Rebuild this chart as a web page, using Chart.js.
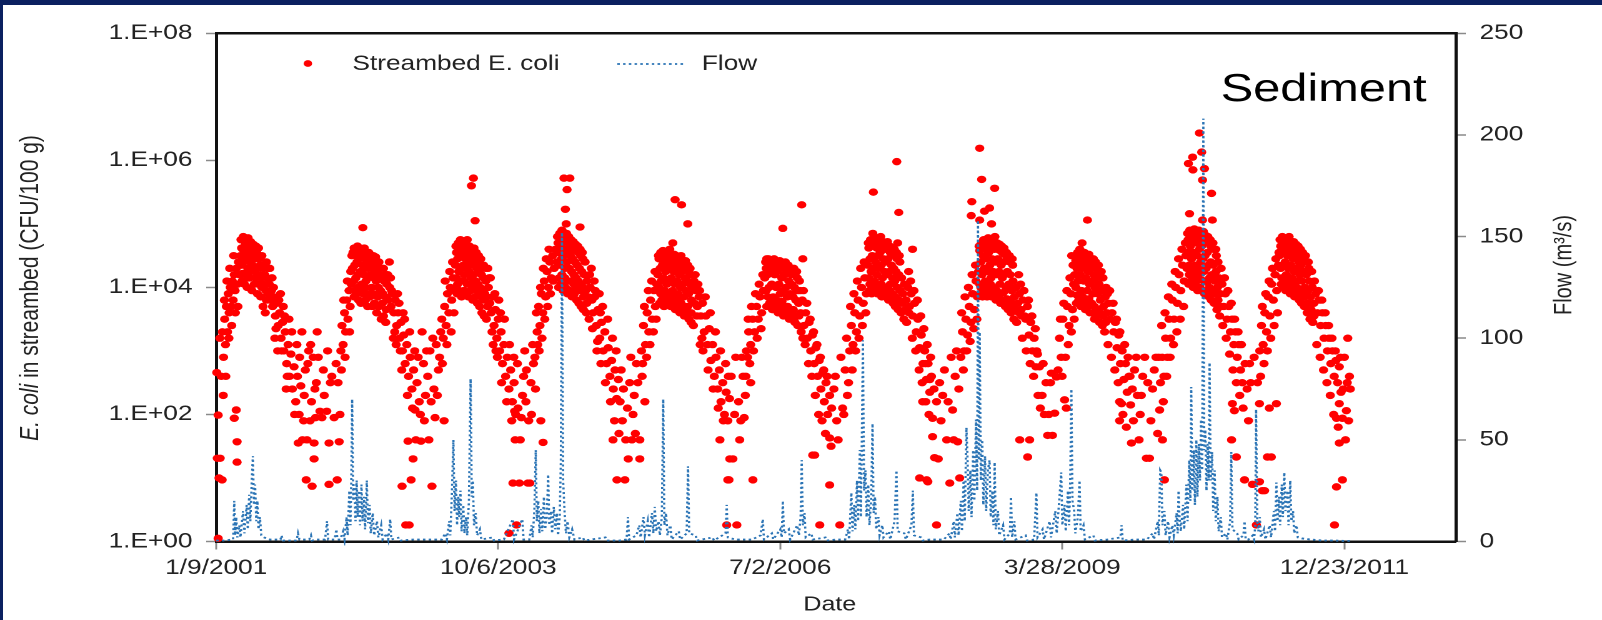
<!DOCTYPE html>
<html><head><meta charset="utf-8">
<script src="https://cdn.jsdelivr.net/npm/chart.js@4.4.1/dist/chart.umd.min.js"></script>
<style>
html,body{margin:0;padding:0;background:#fff;overflow:hidden;width:1602px;height:620px;}
#wrap{position:absolute;left:0;top:0;width:1282px;height:620px;transform:scaleX(1.2496);transform-origin:0 0;}
#topbar{position:absolute;left:0;top:0;width:1602px;height:5px;background:#0b2060;}
#leftbar{position:absolute;left:0;top:0;width:3px;height:620px;background:#0b2060;}
</style></head><body>
<div id="wrap"><canvas id="c" width="1282" height="620"></canvas></div>
<div id="topbar"></div><div id="leftbar"></div>
<script>
// x = days since 1/9/2001
const xTickDays = [0, 1000, 2000, 3000, 4000];
const xTickLabels = ['1/9/2001', '10/6/2003', '7/2/2006', '3/28/2009', '12/23/2011'];
const yTickValues = [1, 1e2, 1e4, 1e6, 1e8];
const yTickLabels = ['1.E+00', '1.E+02', '1.E+04', '1.E+06', '1.E+08'];
const flowTicks = [0, 50, 100, 150, 200, 250];

// Streambed E. coli: [day, log10(CFU/100 g)]
const ecoli2001 = [[2,2.66],[4,1.31],[7,0.05],[7,1.99],[10,1.0],[13,3.2],[14,1.31],[18,2.6],[21,0.97],[22,3.3],[26,2.9],[30,3.5],[33,3.1],[36,3.7],[40,3.3],[43,3.9],[46,3.6],[50,4.0],[53,3.7],[57,4.1],[60,3.8],[64,1.94],[64,4.2],[67,3.95],[71,2.07],[71,4.3],[74,1.57],[74,1.25],[75,4.05],[79,4.4],[82,4.2],
[86,4.5],[90,4.35],[94,4.6],[97,4.4],[101,4.65],[105,4.45],[108,4.55],[112,4.3],[116,4.6],[120,4.4],[124,4.55],[128,4.35],[132,4.5],[136,4.25],[140,4.45],[144,4.3],[148,4.5],[152,4.2],[156,4.35],[160,4.15],[164,4.3],[168,4.05],[172,4.2],[176,3.95],[180,4.15],[184,3.9],[188,4.05],[192,3.8],
[196,3.95],[200,3.7],[205,3.85],[210,3.55],[215,3.75],[220,3.4],[225,3.6],[230,3.2],[235,3.45],[240,3.0],[245,3.3],[250,2.8],[255,3.1],[260,2.6],[265,2.95],[270,2.4],[276,2.75],[282,2.2],[288,2.6],[291,1.55],[294,2.0],[300,2.45],[306,1.6],[312,2.3],[319,0.97],[325,2.8],[333,1.9],[335,3.1],[340,0.87],[347,1.3],[347,1.55],[350,2.4],[355,2.5],[362,2.9]];
const ecoli2001b = [[88,4.75],[96,4.8],[104,4.7],[113,4.78],[122,4.72],[131,4.68],[141,4.65],[150,4.62],[92,4.1],[100,4.05],[110,4.0],[118,4.15],[127,3.95],[135,4.05],[146,3.9],[158,3.85],[166,3.7],[174,3.6],
[25,2.3],[29,3.8],[34,2.6],[38,4.1],[45,3.2],[48,4.3],[55,3.4],[62,4.5],[68,3.6],[77,3.7],
[185,4.3],[198,4.15],[208,3.2],[218,3.0],[228,3.9],[238,3.7],[248,2.4],[258,3.5],[268,3.3],[278,2.0],[286,3.1],[296,2.9],[304,3.3],
[310,1.9],[316,2.7],[322,1.6],[328,3.0],[338,2.2],[344,2.9],[352,1.95],[358,3.3]];
const ecoli2001c = [[90,4.62],[99,4.52],[107,4.65],[115,4.48],[125,4.62],[134,4.52],[143,4.56],[153,4.45],[162,4.5],[170,4.35],[178,4.4],[94,4.22],[103,4.2],[114,4.15],[123,4.25],[139,4.15],[150,4.05],[162,4.0],[178,3.8],[190,4.3],[203,4.0],[212,3.35],[222,3.8],[232,3.0],[242,3.55],[252,2.6]];
const ecoli2002 = [[368,2.05],[375,1.95],[380,2.7],[383,2.3],[392,2.05],[395,3.0],[400,0.9],[400,1.55],[405,2.5],[410,2.6],[418,1.95],[425,2.8],[429,0.97],[436,1.57],[439,2.0],
[442,3.0],[446,3.4],[450,3.1],[455,3.6],[459,3.3],[463,3.8],[467,3.5],[471,3.95],[475,3.7],[479,4.05],
[483,4.3],[487,4.1],[491,4.35],[495,4.15],[499,4.4],[503,4.2],[507,4.45],[511,4.25],[515,4.05],[519,4.35],[520,4.94],[523,4.2],[527,4.45],[531,4.1],[535,4.3],[539,4.15],[543,4.4],[547,4.2],[551,4.0],[555,4.3],[559,4.15],[563,4.35],[567,4.1],[571,4.25],[575,4.0],[579,4.2],[583,3.95],[587,4.15],[591,3.9],[595,4.1],[600,3.85],[605,4.05],[610,3.8],[615,4.0],[620,3.7],[625,3.9],
[630,3.6],[635,3.8],[640,3.4],[645,3.6],[650,3.2],[655,3.45],[659,0.87],[660,3.0],[665,3.25],[670,2.8],[672,0.26],[676,3.1],[680,1.58],[682,2.6],[684,0.26],[688,2.9],[691,0.97],[694,2.4],[698,1.3],[700,2.7],[705,2.07],[712,2.5],[720,2.2],[726,1.58]];
const ecoli2002b = [[432,2.5],[444,2.7],[452,3.8],[457,2.9],[465,4.1],[473,3.3],[477,4.25],
[485,4.55],[493,4.6],[501,4.65],[509,4.6],[517,4.55],[525,4.62],[533,4.5],[541,4.55],[549,4.45],[557,4.5],[565,4.48],[573,4.4],
[489,3.85],[497,3.9],[505,3.8],[513,3.75],[521,3.9],[529,3.8],[537,3.7],[545,3.85],[553,3.7],[561,3.75],[569,3.6],[577,3.7],[585,3.5],[593,3.55],[601,3.45],
[608,4.2],[618,4.15],[628,3.2],[638,3.1],[648,3.75],[658,2.7],[668,3.5],[678,2.3],[686,3.3],[696,2.1],[704,3.0],
[708,1.6],[716,2.9],[724,2.0],[730,3.3]];
const ecoli2002c = [[481,4.5],[489,4.62],[497,4.5],[505,4.58],[513,4.5],[521,4.6],[529,4.55],[537,4.45],[545,4.52],[553,4.42],[561,4.45],[569,4.35],[577,4.4],[585,4.3],[593,4.3],[601,4.2],[491,3.95],[503,4.0],[517,3.95],[529,4.0],[541,3.9],[557,3.9],[573,3.85],[589,3.75],[603,3.65],[614,4.4],[622,3.95],[633,3.3],[643,3.9],[653,3.0],[663,3.6]];
const ecoli2003 = [[735,2.8],[742,2.3],[750,2.6],[758,3.0],[765,0.87],[772,2.4],[780,3.1],[788,2.7],[796,3.3],[800,3.5],[805,3.2],[808,1.9],[810,3.7],[815,3.4],[820,3.9],[825,3.6],[830,4.0],[835,3.8],[840,4.15],[844,3.95],
[848,4.35],[852,4.15],[856,4.45],[860,4.25],[864,4.5],[868,4.3],[872,4.55],[876,4.35],[880,4.2],[884,4.45],[888,4.3],[892,4.5],[896,4.25],[900,4.4],[904,4.15],[905,5.6],[908,4.35],[912,4.2],[912,5.72],[916,4.4],[918,5.05],[920,4.1],[924,4.3],[928,4.05],[932,4.25],[936,4.0],[940,4.2],[944,3.95],[948,4.15],[952,3.9],[956,4.1],[960,3.85],[965,4.0],[970,3.75],
[975,3.6],[980,3.85],[985,3.4],[990,3.65],[995,3.2],[1000,3.5],[1005,3.0],[1010,3.3],[1015,2.8],[1020,3.1],[1026,2.6],[1032,2.9],[1038,0.13],[1038,2.4],[1044,2.7],[1050,2.2],[1052,0.92],[1056,2.5],[1058,2.05],[1062,2.0],[1065,0.26],[1070,2.1],[1075,0.92],[1082,1.95],[1090,2.6]];
const ecoli2003b = [[738,1.9],[746,3.0],[754,1.6],[762,2.2],[768,3.2],[776,1.95],[784,2.3],[792,2.9],[802,2.8],[812,4.1],[818,3.1],[828,4.25],[833,3.3],[838,4.4],[843,3.6],
[850,4.65],[858,4.7],[866,4.75],[874,4.72],[882,4.68],[890,4.75],[898,4.65],[906,4.6],[914,4.62],[922,4.55],[930,4.5],[938,4.45],
[854,3.9],[862,3.95],[870,3.85],[878,3.95],[886,3.9],[894,3.85],[902,3.95],[910,3.8],[918,3.85],[926,3.75],[934,3.7],[942,3.6],[950,3.55],[958,3.5],
[963,4.3],[972,4.15],[982,3.1],[992,3.0],[1002,3.8],[1012,2.5],[1022,3.5],[1030,2.2],[1040,3.1],[1048,1.9],[1055,2.9],[1060,1.6],
[1068,2.8],[1078,1.6],[1086,2.3],[1094,3.0]];
const ecoli2003c = [[852,4.55],[860,4.62],[868,4.6],[876,4.65],[884,4.6],[892,4.62],[900,4.55],[908,4.5],[916,4.52],[924,4.45],[932,4.4],[940,4.35],[948,4.35],[956,4.3],[856,4.05],[866,4.1],[878,4.1],[890,4.05],[902,4.05],[914,4.0],[926,3.95],[938,3.85],[950,3.8],[962,3.7],[968,4.15],[978,3.3],[988,3.9],[997,2.9],[1008,3.6]];
const ecoli2004 = [[1098,2.2],[1105,0.92],[1112,0.92],[1118,2.0],[1125,2.8],[1132,2.4],[1138,3.3],[1140,3.1],[1143,3.7],[1148,3.4],[1151,1.9],[1153,3.9],[1158,3.6],[1159,1.56],[1163,4.1],[1168,3.85],[1173,4.25],[1178,4.0],[1183,4.4],[1188,4.15],[1193,4.5],[1198,4.3],[1203,4.6],[1208,4.4],
[1212,4.55],[1216,4.35],[1220,4.65],[1224,4.45],[1228,4.7],[1232,4.5],[1233,5.72],[1236,4.3],[1238,5.23],[1240,4.6],[1241,5.0],[1244,4.4],[1244,5.54],[1248,4.55],[1252,4.3],[1254,5.72],[1256,4.5],[1260,4.25],[1264,4.45],[1268,4.2],[1272,4.4],[1276,4.15],[1280,4.35],[1284,4.1],[1288,4.3],[1290,4.95],[1292,4.05],[1296,4.25],[1300,4.0],[1305,4.2],[1310,3.95],[1315,4.1],[1320,3.85],[1326,4.0],[1332,3.8],
[1336,3.6],[1342,3.85],[1348,3.4],[1354,3.65],[1360,3.2],[1366,3.45],[1372,3.0],[1378,3.3],[1384,2.8],[1390,3.05],[1396,2.6],[1402,2.85],[1407,1.6],[1408,2.4],[1414,2.7],[1420,2.25],[1421,0.97],[1426,2.55],[1432,2.2],[1440,1.9],[1449,0.97],[1458,2.1]];
const ecoli2004b = [[1100,2.7],[1108,1.9],[1116,2.5],[1122,3.1],[1130,2.9],[1135,3.6],[1145,3.0],[1150,4.0],[1155,3.2],[1160,4.3],[1165,3.5],[1170,4.45],[1175,3.7],[1180,4.6],[1185,3.9],[1195,4.1],
[1210,4.8],[1218,4.85],[1226,4.9],[1234,4.82],[1242,4.85],[1250,4.8],[1258,4.75],[1266,4.72],[1274,4.68],[1282,4.65],[1290,4.6],[1298,4.55],
[1214,4.0],[1222,4.05],[1230,3.95],[1238,4.0],[1246,3.9],[1254,3.95],[1262,3.85],[1270,3.9],[1278,3.8],[1286,3.75],[1294,3.7],[1302,3.65],[1312,3.6],[1322,3.5],
[1330,4.3],[1340,4.1],[1350,3.0],[1358,3.9],[1364,2.8],[1370,3.7],[1380,2.5],[1388,3.5],[1398,2.2],[1405,3.2],[1412,1.9],[1418,3.0],[1428,1.7],[1436,2.7],[1444,2.4],[1452,1.6]];
const ecoli2004c = [[1212,4.7],[1220,4.75],[1228,4.8],[1236,4.72],[1244,4.75],[1252,4.68],[1260,4.65],[1268,4.6],[1276,4.58],[1284,4.55],[1292,4.5],[1300,4.45],[1308,4.4],[1216,4.15],[1226,4.2],[1236,4.15],[1248,4.1],[1258,4.1],[1268,4.05],[1278,4.0],[1290,3.95],[1302,3.85],[1314,3.75],[1324,4.2],[1334,3.35],[1344,3.95],[1352,3.15],[1362,3.6]];
const ecoli2005 = [[1466,2.5],[1474,1.6],[1482,2.3],[1490,2.8],[1502,1.3],[1502,1.6],[1508,3.0],[1510,2.6],[1515,3.4],[1520,2.2],[1522,3.1],[1528,3.6],[1534,3.3],[1540,3.8],[1546,3.5],[1552,3.95],[1557,3.7],[1562,4.05],
[1566,4.2],[1570,4.0],[1574,4.3],[1578,4.1],[1582,4.35],[1586,4.15],[1590,3.95],[1594,4.25],[1598,4.05],[1602,4.3],[1606,4.1],[1610,4.35],[1614,4.15],[1618,3.95],[1619,4.7],[1622,4.25],[1626,4.05],[1627,5.38],[1630,4.3],[1634,4.1],[1638,3.9],[1642,4.2],[1646,4.0],[1650,4.25],[1650,5.3],[1654,4.05],[1658,3.85],[1662,4.15],[1666,3.95],[1670,4.1],[1672,5.0],[1675,3.9],[1680,4.05],[1685,3.8],[1690,4.0],[1695,3.75],[1700,3.95],[1706,3.7],[1712,3.85],
[1718,3.55],[1724,3.75],[1730,3.3],[1736,3.55],[1742,3.1],[1748,3.35],[1754,2.85],[1760,3.1],[1766,2.6],[1772,2.9],[1778,2.4],[1784,2.7],[1786,1.6],[1790,2.2],[1796,2.5],[1802,2.0],[1808,2.35],[1810,0.26],[1814,0.97],[1814,1.9],[1818,0.97],[1820,2.25],[1821,1.3]];
const ecoli2005b = [[1461,1.3],[1470,2.9],[1478,2.0],[1486,1.7],[1495,2.5],[1512,2.8],[1518,3.7],[1526,2.9],[1532,3.95],[1538,3.1],[1544,4.1],[1550,3.3],[1556,4.25],[1560,3.5],
[1568,4.5],[1576,4.55],[1584,4.58],[1592,4.5],[1600,4.55],[1608,4.6],[1616,4.5],[1624,4.52],[1632,4.5],[1640,4.45],[1648,4.5],[1656,4.4],[1664,4.42],[1672,4.35],[1680,4.3],
[1572,3.75],[1580,3.8],[1588,3.7],[1596,3.75],[1604,3.8],[1612,3.7],[1620,3.75],[1628,3.65],[1636,3.7],[1644,3.6],[1652,3.65],[1660,3.55],[1668,3.6],[1676,3.5],[1684,3.45],[1692,3.4],
[1698,4.2],[1708,4.05],[1716,3.1],[1726,3.0],[1734,3.85],[1744,2.7],[1752,3.6],[1762,2.4],[1770,3.3],[1780,2.1],[1788,3.0],[1798,1.9],[1806,2.8],[1816,2.6]];
const ecoli2005c = [[1570,4.45],[1578,4.45],[1586,4.48],[1594,4.42],[1602,4.45],[1610,4.5],[1618,4.42],[1626,4.45],[1634,4.4],[1642,4.38],[1650,4.4],[1658,4.32],[1666,4.3],[1674,4.25],[1682,4.2],[1576,3.9],[1588,3.85],[1600,3.9],[1612,3.85],[1624,3.85],[1636,3.8],[1648,3.75],[1660,3.7],[1672,3.7],[1684,3.6],[1694,4.1],[1704,3.55],[1714,3.95],[1722,3.2]];
const ecoli2006 = [[1832,1.3],[1846,0.26],[1852,2.2],[1860,1.9],[1868,2.6],[1876,2.3],[1880,3.0],[1884,2.9],[1888,3.3],[1895,3.1],[1895,2.5],[1902,3.5],[1903,0.97],[1909,3.3],[1916,3.7],[1922,3.5],[1928,3.85],[1934,3.6],[1940,3.95],
[1945,4.15],[1950,3.95],[1952,4.45],[1955,4.2],[1960,4.0],[1965,4.25],[1970,4.05],[1975,3.85],[1980,4.2],[1985,4.0],[1990,4.25],[1995,4.05],[2000,3.9],[2005,4.15],[2009,4.93],[2010,3.95],[2015,4.2],[2020,4.0],[2025,3.85],[2030,4.1],[2035,3.9],[2040,4.05],[2045,3.85],[2050,4.0],[2055,3.8],[2060,3.95],[2065,3.75],
[2072,3.6],[2076,5.3],[2078,3.8],[2080,4.45],[2084,3.4],[2090,3.6],[2096,3.2],[2102,3.45],[2108,3.0],[2114,3.25],[2115,1.36],[2120,2.8],[2122,1.36],[2126,3.05],[2132,2.6],[2138,2.85],[2140,0.26],[2144,2.4],[2150,2.65],[2156,2.2],[2160,1.7],[2162,2.5],[2168,2.0],[2175,2.3],[2175,1.63],[2175,0.89],[2182,2.1],[2190,2.4]];
const ecoli2006b = [[1826,2.6],[1838,2.0],[1842,2.9],[1856,1.6],[1864,2.9],[1872,1.95],[1878,2.6],[1886,3.5],[1892,2.8],[1898,3.7],[1905,3.0],[1912,3.9],[1918,3.2],[1925,4.05],[1932,3.35],[1938,4.2],
[1948,4.4],[1958,4.45],[1968,4.42],[1978,4.45],[1988,4.4],[1998,4.42],[2008,4.38],[2018,4.4],[2028,4.35],[2038,4.3],[2048,4.3],[2058,4.25],
[1952,3.7],[1962,3.75],[1972,3.65],[1982,3.7],[1992,3.6],[2002,3.65],[2012,3.55],[2022,3.6],[2032,3.5],[2042,3.55],[2052,3.45],[2062,3.4],
[2068,4.1],[2074,3.3],[2082,3.95],[2088,3.1],[2094,3.75],[2100,2.8],[2106,3.5],[2112,2.6],[2118,3.3],[2124,2.3],[2130,3.1],[2136,2.0],[2142,2.9],[2148,1.9],[2154,2.7],[2166,2.6],[2180,1.5]];
const ecoli2006c = [[1950,4.3],[1960,4.35],[1970,4.32],[1980,4.35],[1990,4.32],[2000,4.33],[2010,4.3],[2020,4.3],[2030,4.25],[2040,4.2],[2050,4.2],[2060,4.15],[1956,3.85],[1966,3.82],[1976,3.75],[1986,3.8],[1996,3.75],[2006,3.78],[2016,3.7],[2026,3.7],[2036,3.65],[2046,3.65],[2056,3.55],[2066,3.55],[2070,3.95],[2080,3.2]];
const ecoli2007 = [[2200,1.9],[2211,0.26],[2221,2.1],[2230,2.7],[2238,2.3],[2246,3.0],[2252,3.4],[2258,3.1],[2264,3.6],[2270,3.3],[2276,3.8],[2282,3.55],[2288,4.0],[2294,3.75],[2300,4.15],[2305,3.9],
[2310,4.35],[2314,4.15],[2318,4.45],[2322,4.25],[2326,4.5],[2328,4.85],[2330,4.3],[2330,5.5],[2334,4.1],[2338,4.4],[2342,4.2],[2346,4.5],[2350,4.3],[2354,4.55],[2358,4.35],[2362,4.15],[2366,4.45],[2370,4.25],[2374,4.4],[2378,4.2],[2382,4.45],[2386,4.25],[2390,4.05],[2394,4.35],[2398,4.15],[2402,4.3],[2406,4.1],[2410,4.25],[2413,5.98],[2415,4.0],[2416,4.7],[2420,4.2],[2420,5.18],[2425,3.95],[2430,4.15],[2435,3.9],[2440,4.05],[2446,3.8],[2452,4.0],[2458,3.7],[2464,3.9],[2469,4.6],
[2470,3.55],[2476,3.75],[2482,3.3],[2488,3.5],[2494,3.05],[2494,1.0],[2500,3.25],[2505,2.2],[2506,2.8],[2512,3.0],[2515,2.8],[2518,2.55],[2519,0.97],[2523,0.94],[2524,2.8],[2530,2.35],[2530,2.55],[2536,2.6],[2540,1.94],[2540,1.65],[2547,1.32],[2554,0.26],[2554,2.2]];
const ecoli2007b = [[2195,2.6],[2205,1.6],[2215,2.9],[2225,2.0],[2235,3.2],[2242,2.5],[2249,3.7],[2255,2.7],[2261,3.9],[2267,3.0],[2273,4.1],[2279,3.2],[2285,4.3],[2291,3.4],[2297,4.4],[2303,3.6],
[2312,4.7],[2320,4.75],[2332,4.78],[2340,4.72],[2348,4.75],[2356,4.8],[2364,4.72],[2372,4.7],[2380,4.72],[2388,4.65],[2396,4.62],[2404,4.6],[2412,4.55],[2422,4.5],
[2316,3.95],[2324,3.9],[2336,3.95],[2344,3.9],[2352,3.95],[2360,3.85],[2368,3.9],[2376,3.85],[2384,3.8],[2392,3.85],[2400,3.75],[2408,3.7],[2418,3.65],[2428,3.6],[2438,3.5],[2448,3.45],
[2455,4.25],[2462,4.1],[2468,3.2],[2474,3.95],[2480,3.0],[2486,3.8],[2492,2.7],[2498,3.55],[2503,2.5],[2509,3.35],[2516,2.2],[2521,3.1],[2527,2.0],[2533,2.9],[2545,2.4],[2560,1.3]];
const ecoli2007c = [[2314,4.62],[2322,4.65],[2334,4.68],[2342,4.62],[2350,4.65],[2358,4.7],[2366,4.62],[2374,4.6],[2382,4.62],[2390,4.55],[2398,4.52],[2406,4.5],[2414,4.45],[2424,4.4],[2318,4.05],[2328,4.0],[2338,4.05],[2348,4.0],[2358,4.05],[2368,4.0],[2378,3.95],[2388,3.95],[2398,3.9],[2408,3.85],[2420,3.8],[2432,3.75],[2444,3.65],[2456,3.6]];
const ecoli2008 = [[2565,2.5],[2576,2.3],[2590,1.6],[2601,0.92],[2611,2.07],[2620,2.6],[2629,1.57],[2636,1.0],[2640,2.9],[2646,3.3],[2652,3.0],[2658,3.5],[2664,3.25],[2670,3.7],[2676,3.45],[2677,5.13],[2679,5.35],[2682,3.9],[2688,3.65],[2694,4.1],[2699,3.85],
[2703,4.25],[2707,4.05],[2707,6.19],[2707,5.06],[2711,4.4],[2714,5.7],[2715,4.2],[2719,4.5],[2723,4.3],[2724,5.2],[2727,4.1],[2731,4.45],[2735,4.25],[2739,4.55],[2742,5.25],[2743,4.35],[2747,4.15],[2749,5.0],[2751,4.45],[2755,4.25],[2759,4.6],[2760,5.56],[2763,4.4],[2767,4.2],[2771,4.45],[2775,4.25],[2779,4.05],[2783,4.35],[2787,4.15],[2791,4.4],[2795,4.2],[2800,4.0],[2805,4.25],[2810,4.05],[2815,4.2],[2820,3.95],[2825,4.1],[2830,3.85],[2836,4.0],[2842,3.75],[2848,3.9],[2849,1.6],[2854,3.65],[2860,3.8],[2866,3.55],
[2870,3.5],[2876,3.7],[2877,1.33],[2882,3.25],[2884,1.6],[2888,3.45],[2894,3.0],[2900,3.2],[2906,2.75],[2909,3.0],[2912,2.95],[2919,2.75]];
const ecoli2008b = [[2570,1.9],[2582,2.7],[2595,2.2],[2606,2.9],[2615,1.6],[2625,3.0],[2633,2.4],[2643,3.6],[2649,2.7],[2655,3.85],[2661,3.0],[2667,4.0],[2673,3.15],[2680,4.2],[2686,3.35],[2692,4.35],[2697,3.5],
[2705,4.65],[2713,4.7],[2721,4.75],[2729,4.7],[2737,4.78],[2745,4.72],[2753,4.75],[2761,4.8],[2769,4.7],[2777,4.68],[2785,4.65],[2793,4.62],[2802,4.55],[2812,4.5],[2822,4.45],
[2709,3.9],[2717,3.85],[2725,3.9],[2733,3.85],[2741,3.95],[2749,3.85],[2757,3.9],[2765,3.8],[2773,3.85],[2781,3.75],[2789,3.8],[2798,3.7],[2808,3.65],[2818,3.6],[2828,3.5],[2838,3.45],
[2845,4.2],[2852,4.05],[2858,3.2],[2864,3.95],[2872,3.0],[2880,3.8],[2886,2.8],[2892,3.55],[2898,2.6],[2904,3.35],[2914,2.3],[2922,2.1],[2932,2.8],[2942,2.5],[2952,2.0]];
const ecoli2008c = [[2707,4.58],[2715,4.62],[2723,4.65],[2731,4.6],[2739,4.68],[2747,4.62],[2755,4.65],[2763,4.7],[2771,4.6],[2779,4.58],[2787,4.55],[2795,4.52],[2804,4.45],[2814,4.4],[2824,4.35],[2711,4.0],[2721,4.0],[2731,3.98],[2745,4.05],[2755,4.0],[2767,3.95],[2779,3.9],[2791,3.92],[2803,3.82],[2815,3.78],[2826,3.72],[2836,3.65],[2846,3.6],[2856,3.55]];
const ecoli2009 = [[2928,2.3],[2936,2.0],[2948,1.67],[2958,2.5],[2961,2.65],[2965,1.67],[2973,2.02],[2979,2.59],[2990,3.2],[2996,2.9],[3002,3.5],[3008,2.23],[3014,2.1],[3018,3.7],[3024,3.4],[3030,3.9],[3033,4.5],[3036,3.65],[3040,4.05],
[3044,4.2],[3048,4.0],[3052,4.3],[3056,4.1],[3060,4.4],[3064,4.2],[3068,3.95],[3070,4.7],[3072,4.3],[3076,4.1],[3080,4.35],[3084,4.15],[3088,3.95],[3089,5.06],[3092,4.25],[3096,4.05],[3100,4.3],[3104,4.1],[3108,3.9],[3112,4.2],[3116,4.0],[3120,4.15],[3125,3.9],[3130,4.05],[3135,3.8],[3140,3.95],[3146,3.7],[3152,3.85],[3158,3.6],[3164,3.75],[3170,3.5],
[3176,3.6],[3182,3.3],[3188,3.45],[3194,3.05],[3200,3.25],[3203,2.2],[3203,1.9],[3206,2.8],[3210,2.17],[3212,3.0],[3218,2.55],[3224,2.8],[3230,2.35],[3236,2.6],[3242,2.15],[3245,1.55],[3248,2.4],[3256,2.7],[3266,2.3],[3276,2.0],[3285,2.6]];
const ecoli2009b = [[2985,2.7],[2993,3.5],[2999,2.6],[3005,3.75],[3011,2.9],[3016,3.95],[3021,3.1],[3027,4.15],[3032,3.3],[3038,4.35],[3042,3.5],
[3046,4.5],[3054,4.55],[3062,4.6],[3070,4.5],[3078,4.55],[3086,4.5],[3094,4.52],[3102,4.45],[3110,4.45],[3118,4.4],[3128,4.35],[3138,4.25],
[3050,3.75],[3058,3.8],[3066,3.7],[3074,3.75],[3082,3.65],[3090,3.7],[3098,3.6],[3106,3.6],[3114,3.5],[3122,3.55],[3132,3.45],[3142,3.4],[3150,3.3],
[3144,4.15],[3155,4.0],[3162,3.1],[3168,3.95],[3174,2.9],[3180,3.75],[3186,2.7],[3192,3.5],[3198,2.5],[3204,3.3],[3215,2.0],[3221,3.1],[3227,1.8],[3233,2.9],[3240,2.6],[3252,1.9],[3262,2.9],[3272,1.6],[3280,2.3],[3292,2.9]];
const ecoli2009c = [[3048,4.42],[3056,4.45],[3064,4.5],[3072,4.4],[3080,4.45],[3088,4.42],[3096,4.42],[3104,4.38],[3112,4.35],[3120,4.3],[3130,4.25],[3140,4.15],[3052,3.88],[3062,3.9],[3072,3.85],[3084,3.8],[3094,3.82],[3104,3.75],[3114,3.7],[3124,3.65],[3134,3.6],[3144,3.55],[3154,3.45],[3160,3.9]];
const ecoli2010 = [[3298,1.31],[3309,1.31],[3320,2.4],[3332,2.9],[3345,2.07],[3348,2.5],[3354,2.9],[3355,1.6],[3360,2.6],[3362,0.97],[3366,3.2],[3372,2.9],[3378,3.5],[3384,3.2],[3390,3.8],[3396,3.5],[3402,4.0],[3408,3.75],[3414,4.2],[3420,3.95],[3426,4.35],[3432,4.1],[3438,4.5],
[3442,4.3],[3446,4.55],[3447,5.95],[3450,4.35],[3451,5.16],[3454,4.65],[3458,4.45],[3462,4.25],[3462,6.05],[3463,5.85],[3466,4.55],[3470,4.35],[3474,4.7],[3478,4.5],[3482,4.3],[3486,4.6],[3486,6.43],[3490,4.4],[3494,4.65],[3494,6.13],[3497,5.69],[3497,5.06],[3498,4.45],[3502,4.25],[3504,5.87],[3506,4.5],[3510,4.3],[3514,4.55],[3518,4.35],[3522,4.15],[3526,4.4],[3529,5.48],[3530,4.2],[3532,5.06],[3535,4.35],[3540,4.1],[3545,4.25],[3550,4.0],[3555,4.15],
[3560,3.9],[3566,4.05],[3572,3.7],[3578,3.9],[3584,3.5],[3590,3.7],[3596,3.3],[3600,1.6],[3602,3.5],[3603,2.17],[3608,3.1],[3610,2.06],[3614,3.3],[3617,1.33],[3620,2.9],[3626,3.1],[3632,2.7],[3638,2.5],[3646,0.97]];
const ecoli2010b = [[3303,2.5],[3314,1.9],[3326,2.7],[3338,1.7],[3342,2.9],[3352,3.4],[3358,2.2],[3364,3.6],[3370,2.6],[3376,3.85],[3382,2.9],[3388,4.05],[3394,3.1],[3400,4.25],[3406,3.3],[3412,4.45],[3418,3.5],[3424,4.6],[3430,3.7],[3436,4.7],
[3444,4.85],[3452,4.9],[3460,4.85],[3468,4.92],[3476,4.88],[3484,4.9],[3492,4.85],[3500,4.88],[3508,4.82],[3516,4.8],[3524,4.75],[3534,4.7],[3544,4.6],
[3448,4.05],[3456,4.1],[3464,4.0],[3472,4.05],[3480,3.95],[3488,4.0],[3496,3.95],[3504,3.9],[3512,3.95],[3520,3.85],[3528,3.8],[3538,3.75],[3548,3.65],[3558,3.55],
[3552,4.4],[3563,4.3],[3569,3.4],[3575,4.15],[3581,3.2],[3587,3.95],[3593,2.95],[3599,3.75],[3605,2.7],[3611,3.5],[3617,2.5],[3623,3.3],[3629,2.3],[3635,3.1],[3641,2.1],[3648,2.8]];
const ecoli2010c = [[3446,4.75],[3454,4.8],[3462,4.75],[3470,4.82],[3478,4.78],[3486,4.8],[3494,4.75],[3502,4.78],[3510,4.72],[3518,4.7],[3526,4.65],[3536,4.6],[3546,4.5],[3450,4.2],[3460,4.18],[3470,4.15],[3482,4.2],[3492,4.12],[3502,4.1],[3512,4.08],[3522,4.0],[3532,3.95],[3542,3.9],[3552,3.8],[3562,3.7]];
const ecoli2011 = [[3655,2.4],[3664,2.8],[3674,0.9],[3688,0.26],[3699,0.94],[3699,2.17],[3700,3.0],[3706,3.4],[3709,0.8],[3712,3.1],[3717,0.8],[3718,3.6],[3724,3.3],[3727,1.33],[3730,3.85],[3734,2.1],[3736,3.55],[3741,1.33],[3742,4.05],[3748,3.8],[3754,4.2],[3759,2.17],[3760,3.95],[3766,4.35],
[3770,4.5],[3774,4.3],[3778,4.55],[3782,4.35],[3786,4.6],[3790,4.4],[3794,4.2],[3798,4.5],[3802,4.3],[3802,4.68],[3806,4.55],[3810,4.35],[3814,4.15],[3818,4.45],[3822,4.25],[3826,4.5],[3830,4.3],[3834,4.1],[3838,4.4],[3842,4.2],[3846,4.35],[3850,4.1],[3855,4.25],[3860,4.0],[3865,4.2],[3870,3.95],[3875,4.1],[3880,3.85],[3886,4.0],[3892,3.75],[3898,3.9],
[3904,3.6],[3910,3.8],[3916,3.4],[3922,3.6],[3928,3.2],[3934,3.4],[3940,3.0],[3946,3.2],[3952,2.8],[3958,3.0],[3964,2.6],[3965,0.26],[3970,2.85],[3972,0.86],[3972,1.94],[3976,2.5],[3982,2.75],[3982,1.55],[3982,2.17],[3988,2.35],[3993,0.97],[3993,1.94],[4000,2.9],[4007,2.06],[4012,3.2],[4018,2.6],[4021,2.4]];
const ecoli2011b = [[3660,1.9],[3668,2.5],[3680,2.9],[3692,2.5],[3703,2.6],[3709,3.7],[3715,2.8],[3721,3.9],[3727,3.0],[3733,4.1],[3739,3.2],[3745,4.3],[3751,3.4],[3757,4.45],[3763,3.6],[3768,4.55],
[3772,4.75],[3780,4.8],[3788,4.78],[3796,4.72],[3804,4.8],[3812,4.7],[3820,4.72],[3828,4.68],[3836,4.65],[3844,4.6],[3852,4.55],[3862,4.5],[3872,4.4],
[3776,4.05],[3784,4.0],[3792,3.95],[3800,4.0],[3808,3.9],[3816,3.95],[3824,3.85],[3832,3.9],[3840,3.8],[3848,3.75],[3858,3.7],[3868,3.6],[3878,3.5],[3888,3.45],
[3884,4.25],[3894,4.1],[3902,3.1],[3908,3.95],[3914,2.9],[3920,3.8],[3926,2.7],[3932,3.6],[3938,2.5],[3944,3.4],[3950,2.3],[3956,3.2],[3962,2.0],[3968,3.0],[3978,1.8],[3986,2.9],[3996,2.4],[4004,1.6],[4010,2.5],[4015,1.9]];
const ecoli2011c = [[3774,4.65],[3782,4.7],[3790,4.68],[3798,4.62],[3806,4.7],[3814,4.6],[3822,4.62],[3830,4.58],[3838,4.55],[3846,4.5],[3854,4.45],[3864,4.4],[3874,4.3],[3778,4.15],[3788,4.12],[3798,4.1],[3810,4.08],[3820,4.05],[3830,4.0],[3840,3.98],[3850,3.9],[3860,3.85],[3870,3.75],[3882,3.65],[3892,3.55]];

// Flow: [day, m3/s]
const flow2001 = [[0,0.5],[30,0.5],[60,1],[64,20],[67,3],[71,12],[75,2],[82,8],[86,2],[95,15],[100,4],[108,18],[112,6],[117,23],[121,10],[126,30],[130,42],[134,18],[138,28],[142,10],[146,20],[150,6],[155,12],[160,3],[170,2],[190,1],[228,1],[232,3],[236,0.5],[285,0.5],[290,4],[295,1],[330,1],[336,3],[340,0.5],[360,1]];
const flow2002 = [[386,1],[393,10],[397,1],[420,1],[426,6],[430,1],[440,1],[450,5],[455,1],[462,12],[466,3],[472,25],[476,8],[479,30],[482,70],[486,20],[490,28],[494,10],[498,30],[502,12],[506,25],[510,8],[515,28],[519,10],[524,22],[528,6],[534,30],[538,9],[544,18],[548,4],[555,14],[560,3],[570,10],[575,2],[585,8],[590,1],[605,4],[610,1],[617,11],[621,1],[650,2],[655,0.5],[700,1],[740,1]];
const flow2003 = [[780,1],[800,1],[812,4],[818,1],[826,10],[830,3],[836,25],[841,50],[845,15],[850,30],[854,8],[858,22],[862,12],[866,25],[870,5],[876,18],[880,4],[886,12],[890,3],[896,20],[902,80],[906,22],[910,30],[914,8],[920,14],[925,3],[935,6],[940,1],[980,2],[985,0.5],[1020,1],[1052,11],[1056,1],[1085,11],[1090,1]];
const flow2004 = [[1110,1],[1118,8],[1122,2],[1128,15],[1133,45],[1137,10],[1142,20],[1146,4],[1152,16],[1156,5],[1162,22],[1166,6],[1172,12],[1177,33],[1181,8],[1187,15],[1191,4],[1197,17],[1202,6],[1208,14],[1212,3],[1218,12],[1222,40],[1226,152],[1230,30],[1235,15],[1240,4],[1246,10],[1252,2],[1262,6],[1270,1],[1300,2],[1305,0.5],[1330,1],[1380,2],[1385,0.5],[1430,0.5]];
const flow2005 = [[1455,1],[1460,12],[1464,1],[1490,3],[1500,8],[1505,2],[1515,12],[1520,3],[1530,10],[1535,2],[1545,14],[1550,4],[1555,17],[1560,5],[1568,10],[1573,3],[1580,12],[1585,70],[1589,8],[1595,14],[1600,3],[1610,8],[1615,1],[1640,5],[1645,1],[1668,4],[1673,37],[1677,4],[1700,3],[1705,0.5],[1760,2],[1765,0.5],[1806,4],[1810,18],[1814,2],[1840,1]];
const flow2006 = [[1900,1],[1930,3],[1938,11],[1942,1],[1970,4],[1975,1],[2000,6],[2005,2],[2009,20],[2013,4],[2030,6],[2035,1],[2060,8],[2066,3],[2072,12],[2076,40],[2080,8],[2086,14],[2090,2],[2110,4],[2115,1],[2160,2],[2165,0.5],[2200,1]];
const flow2007 = [[2230,1],[2240,6],[2244,1],[2252,24],[2256,5],[2262,18],[2266,6],[2272,30],[2276,10],[2282,45],[2286,12],[2293,99],[2297,25],[2302,35],[2306,12],[2312,28],[2316,8],[2322,20],[2327,58],[2331,14],[2336,22],[2340,6],[2348,12],[2352,3],[2362,8],[2366,2],[2385,5],[2390,1],[2405,10],[2412,35],[2416,5],[2440,4],[2445,1],[2465,8],[2470,25],[2474,3],[2500,2],[2505,0.5],[2530,1]];
const flow2008 = [[2580,1],[2600,4],[2604,1],[2615,10],[2619,2],[2628,14],[2632,3],[2640,20],[2644,5],[2650,30],[2654,10],[2660,56],[2664,40],[2668,15],[2674,35],[2678,12],[2684,45],[2688,20],[2694,60],[2698,25],[2701,158],[2704,40],[2707,103],[2711,30],[2716,50],[2720,18],[2726,42],[2730,15],[2736,35],[2742,40],[2746,12],[2752,25],[2756,8],[2760,39],[2764,6],[2772,15],[2776,3],[2790,8],[2795,1],[2814,4],[2818,22],[2822,2],[2830,10],[2834,1],[2870,3],[2875,0.5],[2900,1]];
const flow2009 = [[2908,24],[2912,2],[2930,6],[2935,1],[2955,10],[2960,2],[2975,15],[2980,4],[2990,22],[2996,34],[3000,8],[3008,18],[3012,5],[3020,25],[3024,8],[3028,30],[3032,75],[3036,20],[3042,15],[3046,4],[3055,12],[3061,30],[3065,5],[3075,8],[3080,1],[3110,3],[3115,0.5],[3160,1],[3206,2],[3210,8],[3214,0.5],[3260,1]];
const flow2010 = [[3300,1],[3320,4],[3325,1],[3338,10],[3342,3],[3347,35],[3351,34],[3355,8],[3362,15],[3366,3],[3375,10],[3380,2],[3390,8],[3395,3],[3405,14],[3409,4],[3412,25],[3415,13],[3420,5],[3428,18],[3432,6],[3440,28],[3444,10],[3450,40],[3454,20],[3457,76],[3461,25],[3466,45],[3470,18],[3475,50],[3479,22],[3484,48],[3488,30],[3492,60],[3496,35],[3500,208],[3503,45],[3507,55],[3511,25],[3515,48],[3519,30],[3522,88],[3526,30],[3531,44],[3535,15],[3540,35],[3544,10],[3550,22],[3554,5],[3562,12],[3566,2],[3580,4],[3585,1],[3595,10],[3599,44],[3603,6],[3620,4],[3625,1],[3642,3],[3646,10],[3650,1]];
const flow2011 = [[3660,1],[3675,3],[3680,1],[3684,8],[3687,65],[3691,10],[3695,5],[3700,12],[3704,2],[3715,6],[3720,1],[3735,8],[3740,2],[3750,15],[3754,5],[3759,29],[3763,10],[3768,22],[3772,8],[3778,28],[3782,12],[3787,34],[3791,15],[3798,25],[3802,8],[3808,30],[3812,10],[3818,15],[3822,4],[3830,8],[3835,2],[3850,1.5],[3880,1],[3920,0.5],[3960,0.5],[4000,0.3],[4020,0.3]];

const ecoliYears = [ecoli2001, ecoli2001b, ecoli2001c, ecoli2002, ecoli2002b, ecoli2002c, ecoli2003, ecoli2003b, ecoli2003c, ecoli2004, ecoli2004b, ecoli2004c, ecoli2005, ecoli2005b, ecoli2005c, ecoli2006, ecoli2006b, ecoli2006c, ecoli2007, ecoli2007b, ecoli2007c, ecoli2008, ecoli2008b, ecoli2008c, ecoli2009, ecoli2009b, ecoli2009c, ecoli2010, ecoli2010b, ecoli2010c, ecoli2011, ecoli2011b, ecoli2011c];
const flowYears = [flow2001, flow2002, flow2003, flow2004, flow2005, flow2006, flow2007, flow2008, flow2009, flow2010, flow2011];

const ecoliPoints = ecoliYears.flat().map(p => ({x: p[0], y: Math.pow(10, p[1])}));
const flowPoints = flowYears.flat().map(p => ({x: p[0], y: p[1]}));

const RED = '#ff0000';
const BLUE = '#2b74b5';
const FONT = '"Liberation Sans", Arial, sans-serif';
const TXT = '#222';

const decor = {
  id: 'decor',
  afterDraw(chart) {
    const ctx = chart.ctx, a = chart.chartArea;
    ctx.save();
    ctx.strokeStyle = '#111'; ctx.lineWidth = 2.5;
    ctx.beginPath(); ctx.moveTo(a.left - 1, a.top); ctx.lineTo(a.right + 1, a.top); ctx.stroke();
    // legend
    ctx.fillStyle = RED;
    ctx.beginPath(); ctx.arc(246.4, 63.5, 3.4, 0, Math.PI * 2); ctx.fill();
    ctx.fillStyle = TXT; ctx.font = '21px ' + FONT; ctx.textBaseline = 'middle'; ctx.textAlign = 'left';
    ctx.fillText('Streambed E. coli', 282, 64);
    ctx.strokeStyle = BLUE; ctx.lineWidth = 1.8; ctx.setLineDash([2, 2.6]);
    ctx.beginPath(); ctx.moveTo(494, 64); ctx.lineTo(548, 64); ctx.stroke();
    ctx.setLineDash([]);
    ctx.fillText('Flow', 561.6, 64);
    // Sediment
    ctx.fillStyle = '#000'; ctx.font = '39px ' + FONT; ctx.textAlign = 'right'; ctx.textBaseline = 'alphabetic';
    ctx.fillText('Sediment', 1141.6, 101);
    // x title
    ctx.fillStyle = TXT; ctx.font = '20px ' + FONT; ctx.textAlign = 'center'; ctx.textBaseline = 'middle';
    ctx.fillText('Date', 664, 605);
    // left title (E. coli in italics)
    ctx.save();
    ctx.translate(24.8, 288); ctx.rotate(-Math.PI / 2);
    const p1 = 'E. coli', p2 = ' in streambed (CFU/100 g)';
    ctx.font = 'italic 21px ' + FONT; const w1 = ctx.measureText(p1).width;
    ctx.font = '21px ' + FONT; const w2 = ctx.measureText(p2).width;
    const x0 = -(w1 + w2) / 2;
    ctx.textAlign = 'left';
    ctx.font = 'italic 21px ' + FONT; ctx.fillText(p1, x0, 0);
    ctx.font = '21px ' + FONT; ctx.fillText(p2, x0 + w1, 0);
    ctx.restore();
    // right title
    ctx.save();
    ctx.translate(1252, 265); ctx.rotate(-Math.PI / 2);
    ctx.font = '20px ' + FONT; ctx.textAlign = 'center';
    ctx.fillText('Flow (m\u00B3/s)', 0, 0);
    ctx.restore();
    ctx.restore();
  }
};

new Chart(document.getElementById('c'), {
  type: 'scatter',
  data: {
    datasets: [
      {
        type: 'line', label: 'Flow', data: flowPoints, yAxisID: 'y1', order: 0,
        borderColor: BLUE, borderWidth: 1.8, borderDash: [2, 2.6], pointRadius: 0,
        tension: 0, fill: false, clip: 4
      },
      {
        type: 'scatter', label: 'Streambed E. coli', data: ecoliPoints, yAxisID: 'y', order: 1,
        backgroundColor: RED, pointBackgroundColor: RED, pointBorderWidth: 0, pointRadius: 3.7,
        pointHoverRadius: 3.7, clip: 8
      }
    ]
  },
  options: {
    responsive: false, animation: false, devicePixelRatio: 2,
    events: [],
    layout: {padding: {top: 33.3, left: 0, right: 0, bottom: 0}},
    plugins: {legend: {display: false}, tooltip: {enabled: false}},
    scales: {
      x: {
        type: 'linear', position: 'bottom', min: 0, max: 4395,
        afterBuildTicks: s => { s.ticks = xTickDays.map(v => ({value: v})); },
        afterFit: s => { s.height = 78.5; },
        ticks: {
          callback: (v, i) => xTickLabels[i], color: TXT, padding: 6, maxRotation: 0, autoSkip: false,
          font: {family: FONT, size: 21}
        },
        grid: {display: true, drawOnChartArea: false, drawTicks: true, tickLength: 8, tickColor: '#8a8a8a', tickWidth: 1.5},
        border: {display: true, color: '#111', width: 2.5}
      },
      y: {
        type: 'logarithmic', position: 'left', min: 1, max: 1e8,
        afterBuildTicks: s => { s.ticks = yTickValues.map(v => ({value: v})); },
        afterFit: s => { s.width = 173; },
        ticks: {
          callback: (v, i) => yTickLabels[i], color: TXT, padding: 11, autoSkip: false,
          font: {family: FONT, size: 21}
        },
        grid: {display: true, drawOnChartArea: false, drawTicks: true, tickLength: 8, tickColor: '#8a8a8a', tickWidth: 1.5},
        border: {display: true, color: '#111', width: 2.5}
      },
      y1: {
        type: 'linear', position: 'right', min: 0, max: 250,
        afterBuildTicks: s => { s.ticks = flowTicks.map(v => ({value: v})); },
        afterFit: s => { s.width = 117; },
        ticks: {
          color: TXT, padding: 11, autoSkip: false,
          font: {family: FONT, size: 21}
        },
        grid: {display: true, drawOnChartArea: false, drawTicks: true, tickLength: 8, tickColor: '#8a8a8a', tickWidth: 1.5},
        border: {display: true, color: '#111', width: 2.5}
      }
    }
  },
  plugins: [decor]
});
</script>
</body></html>
